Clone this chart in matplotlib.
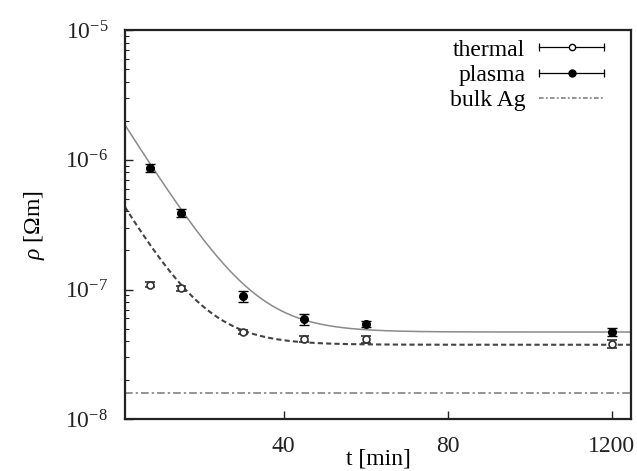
import numpy as np
import matplotlib
matplotlib.use('Agg')
import matplotlib.pyplot as plt
from matplotlib.lines import Line2D
from matplotlib.legend_handler import HandlerBase
from matplotlib.ticker import LogLocator, NullFormatter

plt.rcParams['font.family'] = 'Liberation Serif'
plt.rcParams['mathtext.fontset'] = 'custom'
plt.rcParams['mathtext.rm'] = 'Liberation Serif'
plt.rcParams['mathtext.it'] = 'Liberation Serif:italic'

# annealing time [min] (last point drawn at the 120 position, labelled 1200)
t_pts = [7.5, 15, 30, 45, 60, 120]
rho_thermal = [1.09e-7, 1.02e-7, 4.7e-8, 4.15e-8, 4.15e-8, 3.8e-8]
err_thermal = [0.05e-7, 0.04e-7, 0.2e-8, 0.2e-8, 0.25e-8, 0.25e-8]
rho_plasma = [8.7e-7, 3.9e-7, 8.9e-8, 5.9e-8, 5.4e-8, 4.7e-8]
err_plasma = [0.6e-7, 0.3e-7, 0.9e-8, 0.6e-8, 0.3e-8, 0.35e-8]
rho_bulk_ag = 1.59e-8

# exponential fit parameters rho = a + b*exp(-t/tau)
fit_plasma = (4.7e-8, 2.11e-6, 8.6)
fit_thermal = (3.75e-8, 4.66e-7, 8.0)

x_ticks = [40, 80, 120]
x_ticklabels = ['40', '80', '1200']


class GnuHandler(HandlerBase):
    # gnuplot style legend sample: horizontal bar with end caps and a marker
    def create_artists(self, legend, orig, xdescent, ydescent, width, height, fontsize, trans):
        y = height / 2 - ydescent
        x0, x1 = -xdescent, width - xdescent
        bar = Line2D([x0, x1], [y, y], color='k', lw=0.9, transform=trans)
        caps = Line2D([x0, x1], [y, y], ls='none', marker='|', ms=6, mew=0.9, color='k', transform=trans)
        mk = Line2D([(x0 + x1) / 2], [y], ls='none', marker='o', ms=orig.get_markersize(),
                    mfc=orig.get_markerfacecolor(), mec='k', mew=1.0, transform=trans)
        return [bar, caps, mk]


fig = plt.figure(figsize=(6.37, 4.71), dpi=100)
ax = fig.add_axes([0.196, 0.110, 0.795, 0.826])

tt = np.linspace(1.3, 124.7, 400)
a, b, tau = fit_plasma
ax.plot(tt, a + b * np.exp(-tt / tau), color='#8a8a8a', lw=1.1)
a, b, tau = fit_thermal
ax.plot(tt, a + b * np.exp(-tt / tau), color='#444444', lw=1.5, ls=(0, (2.5, 1.5)))
ax.axhline(rho_bulk_ag, color='#777777', lw=1.1, ls=(0, (5, 2, 1.5, 2)))

ax.errorbar(t_pts, rho_thermal, yerr=err_thermal, fmt='o', ms=5, mfc='white', mec='#333333',
            mew=1.2, ecolor='#333333', elinewidth=1.0, capsize=3.5, capthick=1.0)
ax.errorbar(t_pts, rho_plasma, yerr=err_plasma, fmt='o', ms=5.5, mfc='black', mec='black',
            ecolor='black', elinewidth=1.0, capsize=3.5, capthick=1.0)

h_th = Line2D([], [], marker='o', ms=4.5, mfc='white')
h_pl = Line2D([], [], marker='o', ms=5, mfc='black')
h_ag = Line2D([], [], color='#777777', lw=1.1, ls=(0, (3, 1.5, 1.2, 1.5)))
ax.legend([h_th, h_pl, h_ag], ['thermal', 'plasma', 'bulk Ag'],
          handler_map={h_th: GnuHandler(), h_pl: GnuHandler()},
          loc='upper right', bbox_to_anchor=(0.947, 0.977), frameon=False, markerfirst=False,
          fontsize=17, handlelength=2.75, handletextpad=0.6, labelspacing=0.16,
          borderpad=0, borderaxespad=0)

ax.set_yscale('log')
ax.set_ylim(1e-8, 1e-5)
ax.set_xlim(1.3, 124.7)
ax.yaxis.set_minor_locator(LogLocator(base=10, subs=np.arange(2, 10)))
ax.yaxis.set_minor_formatter(NullFormatter())
ax.set_yticks([1e-8, 1e-7, 1e-6, 1e-5])
ax.set_yticklabels([r'$\mathrm{10^{-8}}$', r'$\mathrm{10^{-7}}$', r'$\mathrm{10^{-6}}$', r'$\mathrm{10^{-5}}$'])
ax.set_xticks(x_ticks)
ax.set_xticklabels(x_ticklabels)
ax.tick_params(axis='both', which='both', direction='in', labelsize=17, colors='#222222')
ax.tick_params(axis='both', which='major', length=6, width=1.0, pad=12)
ax.tick_params(axis='y', which='minor', length=3, width=0.8)

for s in ax.spines.values():
    s.set_linewidth(1.6)
    s.set_color('#222222')

ax.set_xlabel('t [min]', fontsize=17, labelpad=-6)
ax.set_ylabel(r'$\rho$ [$\Omega$m]', fontsize=17)
ax.yaxis.set_label_coords(-0.153, 0.5)

plt.savefig('out.png', dpi=100)
